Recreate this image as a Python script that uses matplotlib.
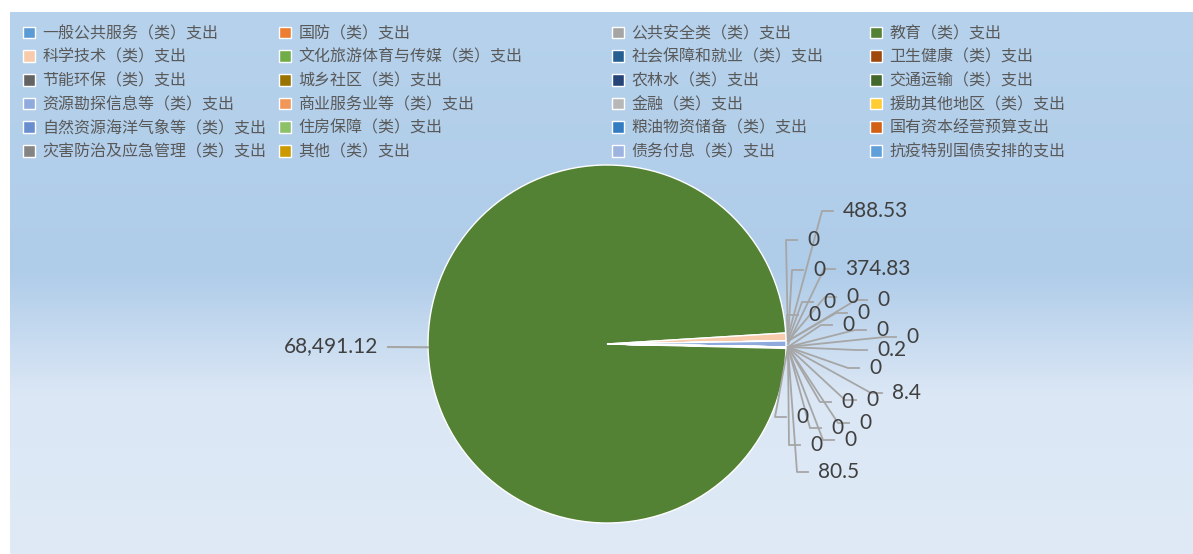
import numpy as np
import matplotlib
matplotlib.use("Agg")
import matplotlib.pyplot as plt
from matplotlib.patches import Patch

plt.rcParams['font.family'] = ['Noto Sans CJK SC', 'DejaVu Sans']

# 类别与数值（图例顺序）
categories = [
    "一般公共服务（类）支出", "国防（类）支出", "公共安全类（类）支出", "教育（类）支出",
    "科学技术（类）支出", "文化旅游体育与传媒（类）支出", "社会保障和就业（类）支出", "卫生健康（类）支出",
    "节能环保（类）支出", "城乡社区（类）支出", "农林水（类）支出", "交通运输（类）支出",
    "资源勘探信息等（类）支出", "商业服务业等（类）支出", "金融（类）支出", "援助其他地区（类）支出",
    "自然资源海洋气象等（类）支出", "住房保障（类）支出", "粮油物资储备（类）支出", "国有资本经营预算支出",
    "灾害防治及应急管理（类）支出", "其他（类）支出", "债务付息（类）支出", "抗疫特别国债安排的支出",
]
values = [
    80.5, 0, 0, 68491.12,
    488.53, 0, 0, 0,
    0, 0, 0, 0,
    374.83, 0, 0, 0,
    0.2, 0, 8.4, 0,
    0, 0, 0, 0,
]
value_labels = ["0.2" if v == 0.2 else ("{:,.2f}".format(v) if v >= 1000 else ("0" if v == 0 else str(v)))
                for v in values]

colors = [
    "#5B9BD5", "#ED7D31", "#A5A5A5", "#548235",
    "#F8CBAD", "#70AD47", "#255E91", "#9E480E",
    "#636363", "#997300", "#264478", "#43682B",
    "#8FAADC", "#F1975A", "#B7B7B7", "#FFCD33",
    "#698ED0", "#8CC168", "#327DC2", "#D26012",
    "#848484", "#CC9A00", "#9DB4E0", "#5FA0DA",
]

# 标签位置（像素，左上为原点），与类别一一对应
label_pos = {
    4: (843, 211), 5: (807, 240), 6: (813, 270), 12: (845, 269),
    7: (823, 302), 8: (846, 297), 9: (877, 300), 10: (808, 315),
    11: (857, 313), 13: (842, 325), 14: (876, 330), 15: (906, 337),
    16: (877, 350), 17: (869, 368), 18: (892, 393), 19: (866, 400),
    20: (841, 402), 21: (859, 423), 22: (796, 417), 23: (831, 428),
    2: (844, 440), 1: (810, 445), 0: (818, 472),
}

W, H = 1193, 554
fig = plt.figure(figsize=(W / 100, H / 100), dpi=100)

# 渐变背景
bg = fig.add_axes([10 / W, 0, 1 - 10 / W, (H - 12) / H])
ys = np.linspace(12, H, 300)
top = np.array([0xB6, 0xD2, 0xEC]) / 255
mid = np.array([0xAF, 0xCC, 0xE9]) / 255
low = np.array([0xDB, 0xE7, 0xF5]) / 255
grad = []
for y in ys:
    if y < 270:
        c = top + (mid - top) * (y - 12) / 258
    elif y < 395:
        c = mid + (low - mid) * (y - 270) / 125
    else:
        c = low + (np.array([0xDF, 0xEA, 0xF6]) / 255 - low) * (y - 395) / (H - 395)
    grad.append(c)
grad = np.array(grad)[:, None, :]
bg.imshow(grad, aspect='auto', extent=[0, 1, 0, 1])
bg.axis('off')

ax = fig.add_axes([0, 0, 1, 1])
ax.patch.set_alpha(0)
cx, cy, R = 607, H - 344, 179
wedges, _ = ax.pie(values, colors=colors, center=(cx, cy), radius=R,
                   startangle=-1.0, counterclock=False,
                   wedgeprops=dict(edgecolor='white', linewidth=1))
ax.set_xlim(0, W)
ax.set_ylim(0, H)
ax.set_aspect('equal')
ax.axis('off')

line_c = "#A6A6A6"
txt_c = "#404040"
for i, w in enumerate(wedges):
    ang = np.deg2rad((w.theta1 + w.theta2) / 2)
    ex, ey = cx + R * np.cos(ang), cy + R * np.sin(ang)
    if i == 3:
        ax.plot([ex, 388], [ey, H - 347], color=line_c, lw=1.5)
        ax.text(378, H - 346, value_labels[i], ha='right', va='center',
                fontsize=15, family='Lato', color=txt_c)
        continue
    lx, ly = label_pos[i]
    ly = H - ly
    ax.plot([ex + 2, lx - 21, lx - 10], [ey, ly, ly], color=line_c, lw=1.3)
    ax.text(lx, ly, value_labels[i], ha='left', va='center',
            fontsize=15, family='Lato', color=txt_c)

# 图例：四列，按行排列
handles = [Patch(facecolor=c, edgecolor='white', linewidth=1) for c in colors]
col_x = [23, 279, 612, 870]
for c in range(4):
    idx = list(range(c, len(categories), 4))
    fig.legend([handles[k] for k in idx], [categories[k] for k in idx],
               loc='upper left', bbox_to_anchor=(col_x[c] / W, 1 - 25 / H),
               frameon=False, fontsize=11.5, handlelength=0.75, handleheight=0.75,
               handletextpad=0.45, labelspacing=0.42, borderpad=0, borderaxespad=0,
               labelcolor="#595959")

fig.savefig("out.png", dpi=100)
